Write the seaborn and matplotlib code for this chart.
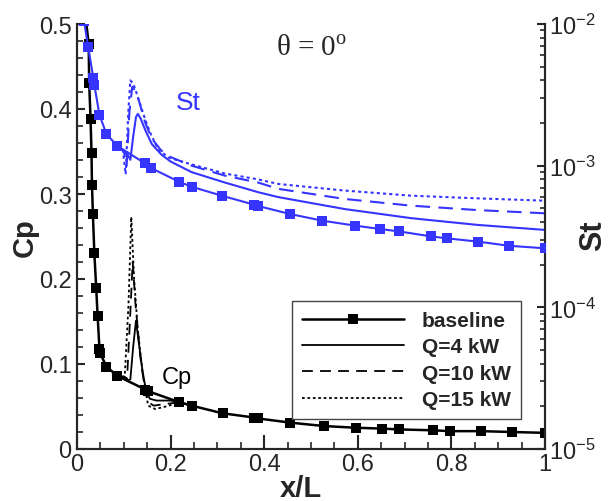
import matplotlib
matplotlib.use("Agg")
import matplotlib.pyplot as plt
import seaborn as sns
import pandas as pd
from matplotlib.ticker import MultipleLocator, FixedLocator, FixedFormatter, LogLocator, NullFormatter

# ---------------- data ----------------
# Cp, baseline (black, square markers)
cp_base_x = [0.016, 0.025, 0.026, 0.029, 0.031, 0.032, 0.034, 0.037, 0.041, 0.044, 0.048, 0.049,
             0.063, 0.086, 0.146, 0.152, 0.219, 0.245, 0.311, 0.379, 0.386, 0.456, 0.528,
             0.596, 0.651, 0.689, 0.761, 0.797, 0.863, 0.929, 1.0]
cp_base_y = [0.52, 0.476, 0.431, 0.388, 0.348, 0.311, 0.276, 0.231, 0.190, 0.157, 0.118, 0.113,
             0.097, 0.086, 0.070, 0.068, 0.055, 0.051, 0.042, 0.037, 0.036, 0.031, 0.027,
             0.025, 0.024, 0.023, 0.022, 0.021, 0.021, 0.020, 0.019]
# Cp with heating (local peaks)
cp_q4_x = [0.086, 0.100, 0.110, 0.114, 0.120, 0.126, 0.132, 0.140, 0.148, 0.156, 0.170, 0.200, 0.219, 0.245]
cp_q4_y = [0.086, 0.083, 0.081, 0.082, 0.120, 0.151, 0.125, 0.092, 0.067, 0.059, 0.057, 0.057, 0.055, 0.051]
cp_q10_x = [0.086, 0.100, 0.107, 0.113, 0.119, 0.125, 0.135, 0.145, 0.152, 0.164, 0.190, 0.219, 0.245]
cp_q10_y = [0.086, 0.085, 0.083, 0.150, 0.220, 0.170, 0.110, 0.070, 0.055, 0.051, 0.053, 0.055, 0.051]
cp_q15_x = [0.086, 0.096, 0.102, 0.110, 0.116, 0.122, 0.130, 0.140, 0.152, 0.167, 0.190, 0.219, 0.245]
cp_q15_y = [0.086, 0.086, 0.085, 0.170, 0.273, 0.200, 0.140, 0.090, 0.051, 0.047, 0.050, 0.055, 0.051]

# St, baseline (blue, square markers)
st_base_x = [0.015, 0.024, 0.035, 0.037, 0.048, 0.063, 0.086, 0.145, 0.159, 0.218, 0.245, 0.309,
             0.379, 0.386, 0.455, 0.524, 0.593, 0.648, 0.687, 0.756, 0.790, 0.857, 0.923, 1.0]
st_base_y = [1.05e-2, 6.84e-3, 4.14e-3, 3.72e-3, 2.28e-3, 1.67e-3, 1.38e-3, 1.04e-3, 9.6e-4,
             7.7e-4, 7.1e-4, 6.14e-4, 5.3e-4, 5.2e-4, 4.56e-4, 4.09e-4, 3.78e-4, 3.57e-4,
             3.44e-4, 3.17e-4, 3.07e-4, 2.91e-4, 2.72e-4, 2.61e-4]
st_q4_x = [0.086, 0.100, 0.108, 0.114, 0.120, 0.126, 0.130, 0.136, 0.146, 0.160, 0.180, 0.200,
           0.245, 0.316, 0.387, 0.430, 0.572, 0.714, 0.855, 1.0]
st_q4_y = [1.38e-3, 1.27e-3, 1.20e-3, 1.10e-3, 1.60e-3, 2.20e-3, 2.32e-3, 2.15e-3, 1.78e-3,
           1.42e-3, 1.20e-3, 1.07e-3, 9.0e-4, 7.6e-4, 6.5e-4, 6.0e-4, 4.94e-4, 4.26e-4,
           3.82e-4, 3.52e-4]
st_q10_x = [0.086, 0.100, 0.106, 0.112, 0.118, 0.124, 0.132, 0.146, 0.160, 0.180, 0.200,
            0.245, 0.316, 0.387, 0.430, 0.572, 0.714, 0.855, 1.0]
st_q10_y = [1.38e-3, 1.27e-3, 1.00e-3, 2.40e-3, 3.60e-3, 3.40e-3, 2.90e-3, 2.00e-3, 1.55e-3,
            1.28e-3, 1.15e-3, 1.0e-3, 8.5e-4, 7.6e-4, 6.86e-4, 5.82e-4, 5.22e-4, 4.86e-4, 4.61e-4]
st_q15_x = [0.086, 0.098, 0.104, 0.110, 0.114, 0.120, 0.128, 0.146, 0.160, 0.174, 0.196,
            0.245, 0.316, 0.387, 0.430, 0.572, 0.714, 0.855, 1.0]
st_q15_y = [1.38e-3, 1.28e-3, 8.7e-4, 2.50e-3, 4.00e-3, 3.80e-3, 3.20e-3, 2.10e-3, 1.60e-3,
            1.30e-3, 1.14e-3, 1.02e-3, 8.8e-4, 8.0e-4, 7.43e-4, 6.67e-4, 6.14e-4, 5.88e-4, 5.66e-4]

legend_labels = ["baseline", "Q=4 kW", "Q=10 kW", "Q=15 kW"]
x_ticks = [0, 0.2, 0.4, 0.6, 0.8, 1.0]
x_ticklabels = ["0", "0.2", "0.4", "0.6", "0.8", "1"]
cp_ticks = [0, 0.1, 0.2, 0.3, 0.4, 0.5]
cp_ticklabels = ["0", "0.1", "0.2", "0.3", "0.4", "0.5"]

# ---------------- style ----------------
sns.set_style("ticks")
plt.rcParams["font.family"] = ["Liberation Sans", "DejaVu Sans"]
plt.rcParams["axes.linewidth"] = 1.5

BLUE = "#3535ff"
BLACK = "black"

fig = plt.figure(figsize=(6.08, 5.02), dpi=100)
ax = fig.add_axes([77 / 608, 52 / 502, 468 / 608, 425 / 502])
ax2 = ax.twinx()


def draw(axis, xs, ys, color, ls="-", lw=1.2, marker=None, ms=6, label=None, z=2):
    df = pd.DataFrame({"x": xs, "y": ys})
    sns.lineplot(data=df, x="x", y="y", ax=axis, color=color, linestyle=ls, linewidth=lw,
                 marker=marker, markersize=ms, markeredgewidth=0, sort=False,
                 estimator=None, label=label, legend=False, zorder=z)


# Cp curves (left axis)
draw(ax, cp_q15_x, cp_q15_y, BLACK, ls=(0, (1.5, 1.5)), lw=1.3)
draw(ax, cp_q10_x, cp_q10_y, BLACK, ls=(0, (6, 4)), lw=1.3)
draw(ax, cp_q4_x, cp_q4_y, BLACK, ls="-", lw=1.3)
draw(ax, cp_base_x, cp_base_y, BLACK, ls="-", lw=1.8, marker="s", ms=6.5, z=3)

# St curves (right axis)
draw(ax2, st_q15_x, st_q15_y, BLUE, ls=(0, (1.5, 1.5)), lw=1.5)
draw(ax2, st_q10_x, st_q10_y, BLUE, ls=(0, (7, 4)), lw=1.5)
draw(ax2, st_q4_x, st_q4_y, BLUE, ls="-", lw=1.5)
draw(ax2, st_base_x, st_base_y, BLUE, ls="-", lw=1.5, marker="s", ms=6.5, z=3)

# axes limits / scales
ax.set_xlim(0, 1)
ax.set_ylim(0, 0.5)
ax2.set_yscale("log")
ax2.set_ylim(1e-5, 1e-2)

ax.xaxis.set_major_locator(FixedLocator(x_ticks))
ax.xaxis.set_major_formatter(FixedFormatter(x_ticklabels))
ax.xaxis.set_minor_locator(MultipleLocator(0.05))
ax.yaxis.set_major_locator(FixedLocator(cp_ticks))
ax.yaxis.set_major_formatter(FixedFormatter(cp_ticklabels))
ax.yaxis.set_minor_locator(MultipleLocator(0.02))
ax2.yaxis.set_major_locator(LogLocator(base=10, numticks=10))
ax2.yaxis.set_minor_locator(LogLocator(base=10, subs=range(2, 10), numticks=20))
ax2.yaxis.set_minor_formatter(NullFormatter())

TICK_FS = 17
ax.tick_params(axis="x", which="major", direction="in", length=10, width=1.5, labelsize=TICK_FS, pad=3, top=False)
ax.tick_params(axis="x", which="minor", direction="in", length=5, width=1.2, top=False)
ax.tick_params(axis="y", which="major", direction="in", length=6, width=1.5, labelsize=TICK_FS, pad=4, right=False)
ax.tick_params(axis="y", which="minor", direction="in", length=4, width=1.2, right=False)
ax2.tick_params(axis="y", which="major", direction="in", length=6, width=1.5, labelsize=TICK_FS, pad=3)
ax2.tick_params(axis="y", which="minor", direction="in", length=3.5, width=1.2)

for a in (ax, ax2):
    a.spines["top"].set_visible(False)
    a.spines["left"].set_linewidth(1.5)
    a.spines["right"].set_linewidth(1.5)
    a.spines["bottom"].set_linewidth(1.5)

ax.set_xlabel("x/L", fontsize=21, fontweight="bold")
ax.xaxis.set_label_coords(0.479, -0.058)
ax.set_ylabel("Cp", fontsize=21, fontweight="bold")
ax.yaxis.set_label_coords(-0.082, 0.50)
ax2.set_ylabel("St", fontsize=22, fontweight="bold")
ax2.yaxis.set_label_coords(1.070, 0.505)

# annotations
ax.text(0.502, 0.944, r"$\mathregular{\theta}$ = 0$^{\mathregular{o}}$", transform=ax.transAxes,
        ha="center", va="center", fontsize=21, family="Liberation Serif")
ax.text(0.237, 0.816, "St", transform=ax.transAxes, ha="center", va="center",
        fontsize=19, color=BLUE)
ax.text(0.214, 0.169, "Cp", transform=ax.transAxes, ha="center", va="center",
        fontsize=17, color=BLACK)

# legend (black Cp lines)
h = ax.get_lines()
handles = [h[3], h[2], h[1], h[0]]
leg = ax2.legend(handles, legend_labels, loc="upper left", bbox_to_anchor=(0.459, 0.349),
                 borderaxespad=0, frameon=True, fancybox=False, framealpha=1,
                 edgecolor="#444444", prop={"weight": "bold", "size": 15},
                 handlelength=4.9, handletextpad=0.85, labelspacing=0.35, borderpad=0.5,
                 numpoints=1)
leg.get_frame().set_linewidth(1.0)

fig.savefig("out.png", dpi=100)
